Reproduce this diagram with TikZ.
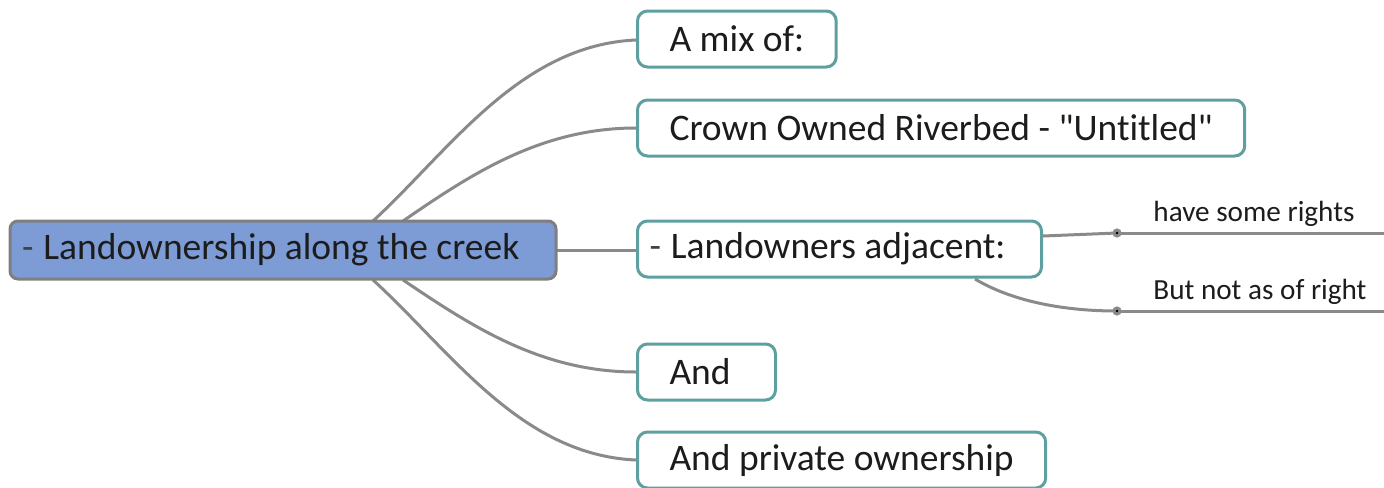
\documentclass[tikz,border=0pt]{standalone}
\usepackage{fontspec}
\setmainfont{Carlito}[Ligatures={NoCommon}]
\usepackage{tikz}
\usetikzlibrary{positioning}
\usepackage{xcolor}
\definecolor{rootblue}{HTML}{7D9BD5}
\definecolor{rootedge}{HTML}{7F7F7F}
\definecolor{tealedge}{HTML}{5E9FA0}
\definecolor{wire}{HTML}{8A8A8A}
\definecolor{ink}{HTML}{1C1C1C}
\newcommand{\bigtxt}{\fontsize{18.75}{22}\selectfont}
\newcommand{\smalltxt}{\fontsize{14.6}{17}\selectfont}
\newcommand{\fold}{\textcolor{darkgray}{-}\hspace{5pt}}

\begin{document}
\begin{tikzpicture}[x=0.5pt,y=-0.5pt,
  rootbox/.style={draw=rootedge,line width=1.5pt,fill=rootblue,rounded corners=4pt,
    minimum width=273pt,minimum height=29pt,inner xsep=6pt,font=\bigtxt,text=ink},
  topic/.style={draw=tealedge,line width=1.5pt,fill=white,rounded corners=5pt,
    minimum height=28pt,inner xsep=16pt,font=\bigtxt,text=ink,anchor=west},
  wire/.style={draw=wire,line width=1.5pt},
  leaf/.style={font=\smalltxt,text=ink,anchor=south west,inner sep=2pt}]
\useasboundingbox (0,0) rectangle (1384,487);

% links from the centre topic
\coordinate (tA) at (373,221);
\coordinate (tB) at (403,221);
\coordinate (bA) at (373,280);
\coordinate (bB) at (403,280);
\coordinate (tip1) at (1117,233);
\coordinate (tip2) at (1117,311);
\coordinate (end1) at (1384,233);
\coordinate (end2) at (1384,311);

\draw[wire] (tA) .. controls (450,150) and (520,45) .. (636,40);
\draw[wire] (tB) .. controls (470,175) and (540,128) .. (636,128);
\draw[wire] (556,250) -- (636,250);
\draw[wire] (bB) .. controls (470,325) and (540,372) .. (636,372);
\draw[wire] (bA) .. controls (450,350) and (520,455) .. (636,460);

\node[rootbox] (root) at (283,250) {\makebox[261pt][l]{\fold Landownership along the creek}};
\node[topic] (mix) at (636,39) {A mix of:};
\node[topic] (crown) at (636,128) {Crown Owned Riverbed - \textquotedbl Untitled\textquotedbl};
\node[topic,inner xsep=6pt] (adj) at (636,249) {\makebox[190pt][l]{\fold Landowners adjacent:}};
\node[topic] (and) at (636,372) {\makebox[37pt][l]{And}};
\node[topic] (priv) at (636,460) {And private ownership};

% sub branches
\draw[wire] (adj.east |- 0,236) -- (tip1);
\draw[wire] (975,279) .. controls (1010,300) and (1060,311) .. (tip2);
\draw[wire] (tip1) -- (end1);
\draw[wire] (tip2) -- (end2);
\fill[wire] (tip1) circle(3);
\fill[wire] (tip2) circle(3);
\node[leaf] (rights) at (1149,231) {have some rights};
\node[leaf] (notright) at (1149,309) {But not as of right};
\end{tikzpicture}
\end{document}
